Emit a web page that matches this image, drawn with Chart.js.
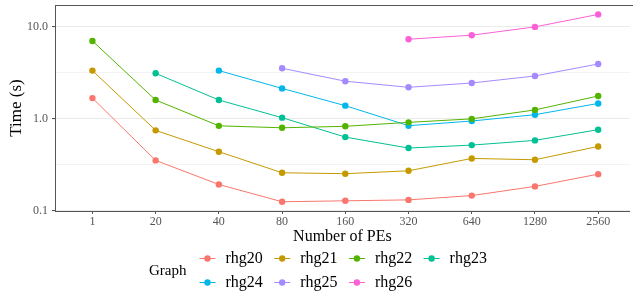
<!DOCTYPE html>
<html>
<head>
<meta charset="utf-8">
<script src="https://cdn.jsdelivr.net/npm/chart.js@4"></script>
<style>
  html, body { margin: 0; padding: 0; background: #fff; }
  #wrap { width: 633px; height: 295px; }
</style>
</head>
<body>
<div id="wrap"><canvas id="timeChart"></canvas></div>
<script>
const peLabels = ['1', '20', '40', '80', '160', '320', '640', '1280', '2560'];
const graphNames = ['rhg20', 'rhg21', 'rhg22', 'rhg23', 'rhg24', 'rhg25', 'rhg26'];
const graphColors = ['#F8766D', '#C49A00', '#53B400', '#00C094', '#00B6EB', '#A58AFF', '#FB61D7'];

const rhg20 = [1.68, 0.354, 0.194, 0.126, 0.129, 0.132, 0.147, 0.185, 0.251];
const rhg21 = [3.34, 0.75, 0.44, 0.26, 0.254, 0.273, 0.372, 0.36, 0.502];
const rhg22 = [7.0, 1.6, 0.84, 0.80, 0.83, 0.916, 1.0, 1.25, 1.77];
const rhg23 = [null, 3.12, 1.6, 1.03, 0.634, 0.482, 0.519, 0.584, 0.763];
const rhg24 = [null, null, 3.34, 2.14, 1.39, 0.843, 0.947, 1.11, 1.47];
const rhg25 = [null, null, null, 3.54, 2.56, 2.20, 2.45, 2.92, 3.94];
const rhg26 = [null, null, null, null, null, 7.31, 8.09, 9.95, 13.6];

const yMajor = [0.1, 1, 10];
const yMinor = [0.316, 3.16];

const FONT = '"Liberation Serif", serif';
const AXIS = '#555555';
const seriesValues = [rhg20, rhg21, rhg22, rhg23, rhg24, rhg25, rhg26];

function toPoints(values) {
    return values.map((v, i) => ({ x: i, y: v })).filter(p => p.y !== null);
}

// top edge of the panel plus the two-row legend with its title on the left
const panelAndLegend = {
    id: 'panelAndLegend',
    afterDatasetsDraw(chart) {
        const ctx = chart.ctx;
        const a = chart.chartArea;
        ctx.save();
        ctx.strokeStyle = AXIS;
        ctx.lineWidth = 1;
        ctx.beginPath();
        ctx.moveTo(a.left, a.top + 0.5);
        ctx.lineTo(chart.width, a.top + 0.5);
        ctx.stroke();
        ctx.restore();
    },
    afterDraw(chart) {
        const ctx = chart.ctx;
        ctx.save();
        ctx.fillStyle = '#000';
        ctx.textBaseline = 'middle';
        ctx.font = '15px ' + FONT;
        ctx.fillText('Graph', 149, 271);
        ctx.font = '16px ' + FONT;
        chart.data.datasets.forEach((ds, i) => {
            const col = i % 4;
            const row = Math.floor(i / 4);
            const cx = 207.5 + col * 74.7;
            const cy = 258.5 + row * 24;
            ctx.strokeStyle = ds.borderColor;
            ctx.lineWidth = 1;
            ctx.beginPath();
            ctx.moveTo(cx - 8, cy);
            ctx.lineTo(cx + 8, cy);
            ctx.stroke();
            ctx.fillStyle = ds.borderColor;
            ctx.beginPath();
            ctx.arc(cx, cy, 3.2, 0, Math.PI * 2);
            ctx.fill();
            ctx.fillStyle = '#000';
            ctx.fillText(ds.label, cx + 18, cy);
        });
        ctx.restore();
    }
};

const ctx = document.getElementById('timeChart').getContext('2d');
const timeChart = new Chart(ctx, {
    type: 'line',
    data: {
        datasets: graphNames.map((name, i) => ({
            label: name,
            data: toPoints(seriesValues[i]),
            borderColor: graphColors[i],
            backgroundColor: graphColors[i],
            borderWidth: 1,
            pointRadius: 3.2,
            pointBorderWidth: 0,
            pointHoverRadius: 3.2,
            tension: 0,
            fill: false
        }))
    },
    options: {
        responsive: true,
        maintainAspectRatio: false,
        animation: false,
        layout: { padding: { top: 5, right: 0, bottom: 49, left: 0 } },
        plugins: {
            legend: { display: false },
            tooltip: { enabled: false }
        },
        scales: {
            x: {
                type: 'linear',
                min: -0.592,
                max: 8.5,
                afterBuildTicks: scale => {
                    scale.ticks = peLabels.map((_, i) => ({ value: i }));
                },
                afterFit: scale => {
                    scale.height = 35;
                    scale.paddingLeft = 0;
                    scale.paddingRight = 0;
                },
                ticks: {
                    callback: value => peLabels[value],
                    color: '#555555',
                    font: { family: FONT, size: 12 },
                    padding: 1,
                    maxRotation: 0
                },
                grid: {
                    drawOnChartArea: false,
                    drawTicks: true,
                    tickLength: 3,
                    tickColor: AXIS
                },
                border: { display: true, color: AXIS, width: 1 },
                title: {
                    display: true,
                    text: 'Number of PEs',
                    color: '#000',
                    font: { family: FONT, size: 16 },
                    padding: { top: 2, bottom: 0 }
                }
            },
            y: {
                type: 'logarithmic',
                min: 0.1,
                max: 17.2,
                afterBuildTicks: scale => {
                    scale.ticks = yMajor.concat(yMinor).sort((a, b) => a - b).map(v => ({ value: v }));
                },
                afterFit: scale => {
                    scale.width = 55;
                    scale.paddingTop = 0;
                    scale.paddingBottom = 0;
                },
                ticks: {
                    callback: value => yMajor.includes(value) ? value.toFixed(1) : '',
                    color: '#555555',
                    font: { family: FONT, size: 12 },
                    padding: 4
                },
                grid: {
                    color: '#ebebeb',
                    lineWidth: c => yMajor.includes(c.tick.value) ? 1.1 : 0.6,
                    tickLength: 3,
                    tickColor: c => yMajor.includes(c.tick.value) ? AXIS : 'rgba(0,0,0,0)'
                },
                border: { display: true, color: AXIS, width: 1 },
                title: {
                    display: true,
                    text: 'Time (s)',
                    color: '#000',
                    font: { family: FONT, size: 17 },
                    padding: { top: 6, bottom: 2 }
                }
            }
        }
    },
    plugins: [panelAndLegend]
});
</script>
</body>
</html>
